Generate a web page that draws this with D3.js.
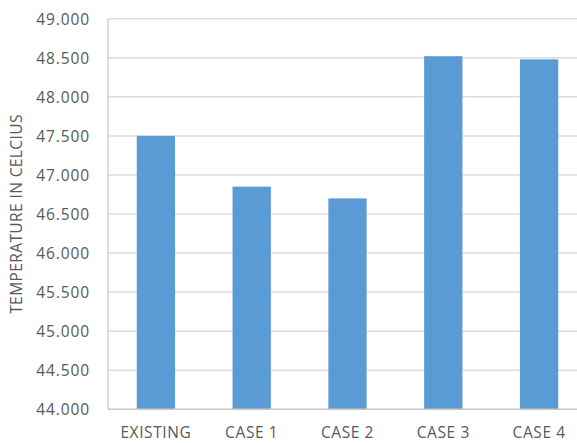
<!DOCTYPE html>
<html><head><meta charset="utf-8">
<script src="https://cdn.jsdelivr.net/npm/d3@7"></script>
<style>body{margin:0;background:#fff}svg{display:block}</style>
</head><body>
<svg id="c" width="577" height="443"></svg>
<script>
const categories = ["EXISTING","CASE 1","CASE 2","CASE 3","CASE 4"];
const values = [47.50, 46.85, 46.70, 48.52, 48.48];
const yTicks = [44,44.5,45,45.5,46,46.5,47,47.5,48,48.5,49];
const yLabel = "TEMPERATURE IN CELCIUS";

const svg = d3.select("#c");
const pL = 108, pR = 587, pT = 18.7, pB = 409.3;
const x = d3.scaleBand().domain(categories).range([pL, pR]).paddingInner(0.6).paddingOuter(0.3);
const y = d3.scaleLinear().domain([44,49]).range([pB, pT]);

// gridlines
svg.append("g").selectAll("line").data(yTicks.filter(t=>t>44)).join("line")
  .attr("x1", pL).attr("x2", 577).attr("y1", d=>y(d)).attr("y2", d=>y(d))
  .attr("stroke", "#dcdcdc").attr("stroke-width", 1.5);

// bars
svg.append("g").selectAll("rect").data(values).join("rect")
  .attr("x", (d,i)=>x(categories[i])).attr("width", x.bandwidth())
  .attr("y", d=>y(d)).attr("height", d=>y(44)-y(d))
  .attr("fill", "#5b9bd5");

// axes lines
svg.append("line").attr("x1", pL).attr("x2", pL).attr("y1", pT).attr("y2", pB)
  .attr("stroke", "#d0d0d0").attr("stroke-width", 1.5);
svg.append("line").attr("x1", pL).attr("x2", 577).attr("y1", pB).attr("y2", pB)
  .attr("stroke", "#c8c8c8").attr("stroke-width", 1.5);

// y axis via d3 axis
const yAxis = d3.axisLeft(y).tickValues(yTicks).tickFormat(d3.format(".3f")).tickSize(0).tickPadding(18);
const gy = svg.append("g").attr("transform", `translate(${pL},0)`).call(yAxis);
gy.select(".domain").remove();
gy.selectAll("text").attr("font-family","'Open Sans', sans-serif").attr("font-size","15.5px")
  .attr("letter-spacing","0.9px").attr("fill","#595959").attr("dy","0.35em");

// x axis
const xAxis = d3.axisBottom(x).tickSize(0).tickPadding(18);
const gx = svg.append("g").attr("transform", `translate(0,${pB})`).call(xAxis);
gx.select(".domain").remove();
gx.selectAll("text").attr("font-family","'Open Sans', sans-serif").attr("font-size","15.5px")
  .attr("letter-spacing","0.6px").attr("fill","#595959");

// y label
svg.append("text").attr("transform", `translate(22,${(pT+pB)/2}) rotate(-90)`)
  .attr("text-anchor","middle").attr("font-family","'Open Sans', sans-serif")
  .attr("font-size","15.5px").attr("letter-spacing","0.4px").attr("fill","#595959").text(yLabel);
</script>
</body></html>
